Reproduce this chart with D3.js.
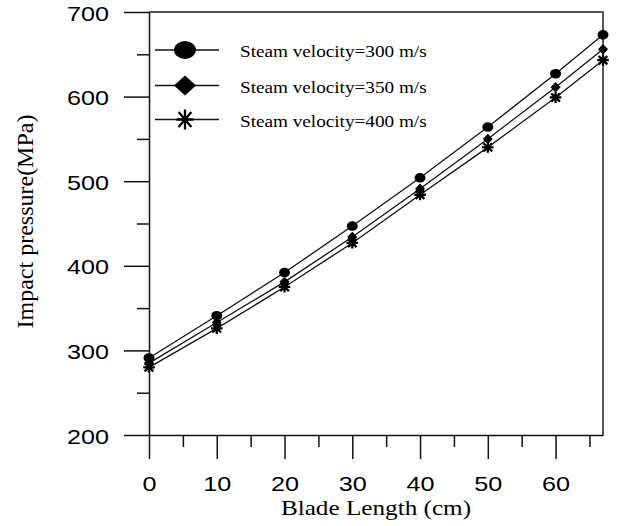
<!DOCTYPE html>
<html>
<head>
<meta charset="utf-8">
<script src="https://cdn.jsdelivr.net/npm/d3@7"></script>
<style>
  body { margin: 0; background: #fff; }
  svg { display: block; }
</style>
</head>
<body>
<div id="chart"></div>
<script>
// blade length (cm)
var bladeLength = [0, 10, 20, 30, 40, 50, 60, 67];
// impact pressure (MPa) for each steam velocity
var v300 = [291, 341, 392, 447, 504, 564, 627, 673];
var v350 = [285, 333, 381, 434, 491, 550, 611, 656];
var v400 = [280, 326, 375, 427, 484, 540, 599, 643];
var seriesNames = ["Steam velocity=300 m/s", "Steam velocity=350 m/s", "Steam velocity=400 m/s"];
var xTicks = [0, 10, 20, 30, 40, 50, 60];
var xMinor = [5, 15, 25, 35, 45, 55, 65];
var yTicks = [200, 300, 400, 500, 600, 700];
var yMinor = [250, 350, 450, 550, 650];

var width = 618;
var height = 526;
var stretch = 1.26;

var svg = d3.select("#chart")
    .append("svg")
    .attr("width", width)
    .attr("height", height);

var x = d3.scaleLinear().domain([0, 67]).range([149, 603]);
var y = d3.scaleLinear().domain([200, 700]).range([435, 12]);

// frame top + right
svg.append("path")
    .attr("d", "M" + x(0) + "," + y(700) + "H" + x(67) + "V" + y(200))
    .attr("fill", "none")
    .attr("stroke", "#222")
    .attr("stroke-width", 1.5);

// x axis
var xAxis = svg.append("g")
    .attr("transform", "translate(0," + y(200) + ")")
    .call(d3.axisBottom(x).tickValues(xTicks).tickSize(24).tickPadding(18).tickSizeOuter(0));
svg.append("g")
    .attr("transform", "translate(0," + y(200) + ")")
    .call(d3.axisBottom(x).tickValues(xMinor).tickSize(12).tickFormat(""))
    .select(".domain").remove();

xAxis.selectAll("text")
    .style("font-family", "'Liberation Sans', Arial, sans-serif")
    .style("font-size", "20px")
    .attr("fill", "#000")
    .attr("transform", "scale(" + stretch + ",1)");

// y axis
var yAxis = svg.append("g")
    .attr("transform", "translate(" + x(0) + ",0)")
    .call(d3.axisLeft(y).tickValues(yTicks).tickSize(25).tickSizeOuter(0));
svg.append("g")
    .attr("transform", "translate(" + x(0) + ",0)")
    .call(d3.axisLeft(y).tickValues(yMinor).tickSize(12).tickFormat(""))
    .select(".domain").remove();

yAxis.selectAll("text")
    .style("font-family", "'Liberation Sans', Arial, sans-serif")
    .style("font-size", "20px")
    .attr("fill", "#000")
    .attr("x", 0)
    .attr("dy", "0.4em")
    .attr("transform", "translate(-40,0) scale(" + stretch + ",1)");

svg.selectAll(".domain, .tick line")
    .attr("stroke", "#111")
    .attr("stroke-width", 1.5);

// axis titles
svg.append("text")
    .attr("transform", "translate(" + ((x(0) + x(67)) / 2) + ",515) scale(" + stretch + ",1)")
    .attr("text-anchor", "middle")
    .style("font-family", "'Liberation Serif', 'Times New Roman', serif")
    .style("font-size", "20px")
    .text("Blade Length (cm)");

svg.append("text")
    .attr("transform", "translate(33," + ((y(200) + y(700)) / 2 - 2) + ") rotate(-90)")
    .attr("text-anchor", "middle")
    .style("font-family", "'Liberation Serif', 'Times New Roman', serif")
    .style("font-size", "24px")
    .text("Impact pressure(MPa)");

// marker shapes
function circleMark(g, rx, ry) {
    g.append("ellipse").attr("rx", rx).attr("ry", ry).attr("fill", "#000");
}
function diamondMark(g, hx, hy) {
    g.append("path")
        .attr("d", "M0," + (-hy) + "L" + hx + ",0L0," + hy + "L" + (-hx) + ",0Z")
        .attr("fill", "#000");
}
function starMark(g, hx, hy) {
    var dx = hx * 0.75, dy = hy * 0.75;
    g.append("path")
        .attr("d", "M" + (-hx) + ",0H" + hx + "M0," + (-hy) + "V" + hy +
            "M" + (-dx) + "," + (-dy) + "L" + dx + "," + dy +
            "M" + (-dx) + "," + dy + "L" + dx + "," + (-dy))
        .attr("stroke", "#000")
        .attr("stroke-width", 2.3)
        .attr("fill", "none");
}

var series = [
    { name: seriesNames[0], values: v300, mark: circleMark, size: [5.5, 4.8], legSize: [11, 9] },
    { name: seriesNames[1], values: v350, mark: diamondMark, size: [5, 5.2], legSize: [11, 10] },
    { name: seriesNames[2], values: v400, mark: starMark, size: [5.8, 5.5], legSize: [8.5, 10] }
];

var line = d3.line()
    .x(function (d, i) { return x(bladeLength[i]); })
    .y(function (d) { return y(d); });

series.forEach(function (s) {
    svg.append("path")
        .datum(s.values)
        .attr("d", line)
        .attr("fill", "none")
        .attr("stroke", "#111")
        .attr("stroke-width", 1.3);

    s.values.forEach(function (v, i) {
        var g = svg.append("g")
            .attr("transform", "translate(" + x(bladeLength[i]) + "," + y(v) + ")");
        s.mark(g, s.size[0], s.size[1]);
    });
});

// legend
var legendY = [50, 85.5, 119.5];
series.forEach(function (s, i) {
    var lg = svg.append("g").attr("transform", "translate(0," + legendY[i] + ")");
    lg.append("line")
        .attr("x1", 155).attr("x2", 219)
        .attr("stroke", "#111")
        .attr("stroke-width", 1.3);
    var m = lg.append("g").attr("transform", "translate(185,0)");
    s.mark(m, s.legSize[0], s.legSize[1]);
    lg.append("text")
        .attr("transform", "translate(240,7) scale(1.2,1)")
        .style("font-family", "'Liberation Serif', 'Times New Roman', serif")
        .style("font-size", "16px")
        .text(s.name);
});
</script>
</body>
</html>
